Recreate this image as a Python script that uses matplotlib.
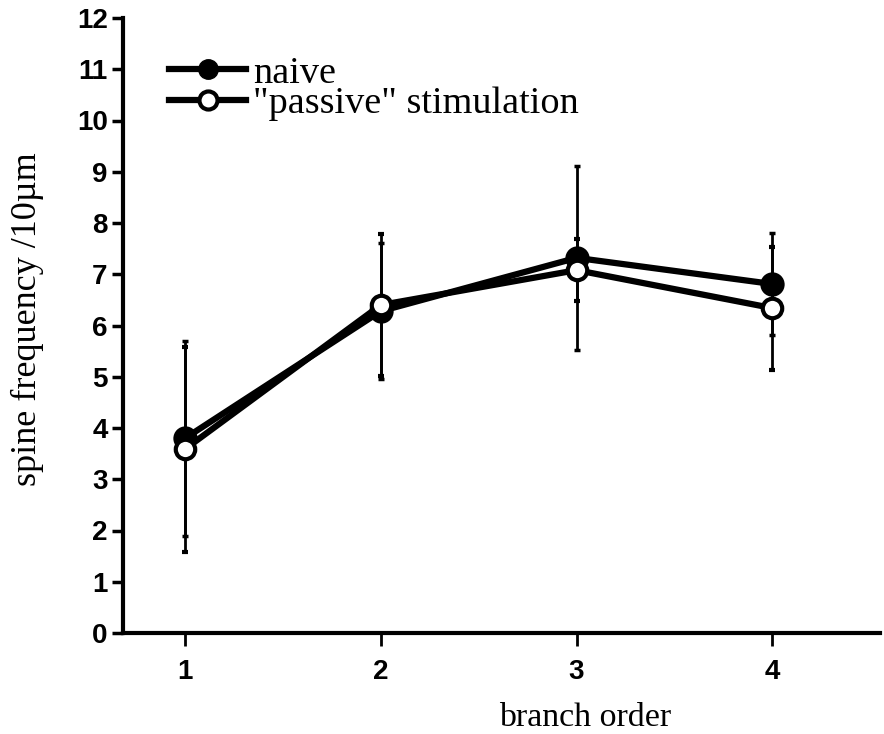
import matplotlib
matplotlib.use("Agg")
import matplotlib.pyplot as plt
from matplotlib.lines import Line2D

branch_order = [1, 2, 3, 4]
naive_mean = [3.80, 6.28, 7.32, 6.81]
naive_err = [1.90, 1.33, 1.80, 1.00]
passive_mean = [3.59, 6.40, 7.08, 6.34]
passive_err = [2.00, 1.39, 0.60, 1.20]
yticks = list(range(0, 13))

fig = plt.figure(figsize=(8.84, 7.34), dpi=100)
ax = fig.add_axes([123/884, 1-633/734, (880-123)/884, (633-18)/734])

serif = ['Liberation Serif', 'DejaVu Serif']
sans = ['Liberation Sans', 'DejaVu Sans']

ax.errorbar(branch_order, naive_mean, yerr=naive_err, color='black', lw=4.5,
            marker='o', ms=15, mfc='black', mec='black', mew=2.5,
            ecolor='black', elinewidth=2, capsize=2.5, capthick=2, zorder=3)
ax.errorbar(branch_order, passive_mean, yerr=passive_err, color='black', lw=4.5,
            marker='o', ms=14, mfc='white', mec='black', mew=3,
            ecolor='black', elinewidth=2, capsize=2.5, capthick=2, zorder=4)

ax.set_xlim(0.683, 4.55)
ax.set_ylim(0, 12)
ax.set_xticks(branch_order)
ax.set_yticks(yticks)
for s in ['top', 'right']:
    ax.spines[s].set_visible(False)
for s in ['left', 'bottom']:
    ax.spines[s].set_linewidth(3)
ax.tick_params(axis='y', direction='out', length=8, width=2.5, pad=3)
ax.tick_params(axis='x', direction='out', length=9, width=2, pad=10)
for lab in ax.get_xticklabels() + ax.get_yticklabels():
    lab.set_family(sans)
    lab.set_fontweight('bold')
    lab.set_fontsize(20)

ax.set_ylabel('spine frequency /10µm', family=serif, fontsize=26)
ax.yaxis.set_label_coords(-0.104, 0.51)
ax.set_xlabel('branch order', family=serif, fontsize=24.5)
ax.xaxis.set_label_coords(0.61, -0.113)

h1 = Line2D([], [], color='black', lw=4.5, marker='o', ms=14, mfc='black', mec='black')
h2 = Line2D([], [], color='black', lw=4.5, marker='o', ms=13, mfc='white', mec='black', mew=3)
leg = ax.legend([h1, h2], ['naive', '"passive" stimulation'], loc='upper left',
                bbox_to_anchor=(0.026, 0.982), frameon=False, handlelength=2.0,
                handletextpad=0.2, labelspacing=-0.1, borderpad=0.2,
                prop={'family': serif, 'size': 27.5})

fig.savefig('out.png', dpi=100)
